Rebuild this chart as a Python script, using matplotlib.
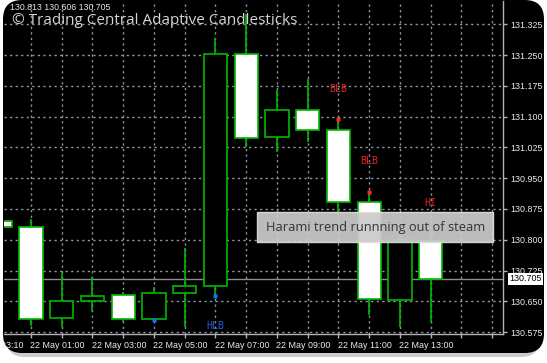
import matplotlib
matplotlib.use("Agg")
import matplotlib.pyplot as plt
from matplotlib.patches import FancyBboxPatch, Rectangle
from matplotlib.transforms import blended_transform_factory

# ---------------- data ----------------
hours = [0, 1, 2, 3, 4, 5, 6, 7, 8, 9, 10, 11, 12, 13, 14]
opens = [130.846, 130.831, 130.610, 130.650, 130.665, 130.607, 130.670, 130.6875,
         131.252, 131.050, 131.115, 131.067, 130.891, 130.653, 130.797]
highs = [130.846, 130.851, 130.718, 130.710, 130.674, 130.686, 130.780, 131.291,
         131.350, 131.165, 131.191, 131.093, 130.917, 130.809, 130.8165]
lows = [130.831, 130.590, 130.588, 130.627, 130.601, 130.605, 130.588, 130.662,
        131.025, 131.0145, 131.037, 130.863, 130.617, 130.588, 130.601]
closes = [130.831, 130.607, 130.652, 130.662, 130.607, 130.671, 130.6875, 131.252,
          131.0486, 131.115, 131.067, 130.891, 130.655, 130.7995, 130.705]

y_ticks = [130.575, 130.650, 130.725, 130.800, 130.875, 130.950, 131.025,
           131.100, 131.175, 131.250, 131.325]
x_label_hours = [-1, 1, 3, 5, 7, 9, 11, 13]
x_labels = ["21 May 23:10", "22 May 01:00", "22 May 03:00", "22 May 05:00",
            "22 May 07:00", "22 May 09:00", "22 May 11:00", "22 May 13:00"]

current_price = 130.705
header_values = "130.813 130.606 130.705"
title = "\u00a9 Trading Central Adaptive Candlesticks"
annotation = "Harami trend runnning out of steam"

sell_hours = [11, 12, 14]
sell_texts = ["BLB", "BLB", "HI"]
sell_text_prices = [131.167, 130.992, 130.890]
buy_hours = [5, 7]
buy_texts = ["", "HLB"]
buy_text_prices = [None, 130.590]

# ---------------- figure ----------------
W, H = 547, 363
fig = plt.figure(figsize=(W / 100, H / 100), dpi=100)
fig.patch.set_facecolor("white")


def fx(px):
    return px / W


def fy(py):
    return 1 - py / H


shadow = FancyBboxPatch((fx(6), fy(357)), fx(540) - fx(6), fy(4) - fy(357),
                        boxstyle="round,pad=0,rounding_size=0.035",
                        transform=fig.transFigure, facecolor="#9a9a9a",
                        edgecolor="none", alpha=0.5, zorder=-2,
                        mutation_aspect=W / H)
fig.add_artist(shadow)
frame = FancyBboxPatch((fx(3), fy(353)), fx(544) - fx(3), fy(0) - fy(353),
                       boxstyle="round,pad=0,rounding_size=0.035",
                       transform=fig.transFigure, facecolor="black",
                       edgecolor="none", zorder=-1, mutation_aspect=W / H)
fig.add_artist(frame)

ax = fig.add_axes([fx(4), fy(334), fx(503) - fx(4), fy(1) - fy(334)])
ax.set_zorder(1)
ax.patch.set_visible(False)
ax.set_xlim(0.122, 16.35)
ax.set_ylim(130.5706, 131.3815)

grid_color = "#8d97a1"
grid_ls = (0, (1.6, 2.4))
for h in range(0, 17):
    ax.axvline(h, color=grid_color, lw=1.0, ls=grid_ls, zorder=1)
for p in y_ticks:
    ax.axhline(p, color=grid_color, lw=1.0, ls=grid_ls, zorder=1)

# current price line
ax.axhline(current_price, color="#8c8c8c", lw=1.0, zorder=1.5)

green = "#00b800"
width = 0.75
for h, o, hi, lo, c in zip(hours, opens, highs, lows, closes):
    ax.vlines(h, lo, hi, color=green, lw=1.2, zorder=2)
    face = "black" if c > o else "white"
    ax.bar(h, abs(c - o), bottom=min(o, c), width=width, facecolor=face,
           edgecolor=green, linewidth=1.2, zorder=3)

# signals
for h, t, tp in zip(sell_hours, sell_texts, sell_text_prices):
    ax.plot(h, highs[hours.index(h)], marker="s", ms=2.4, color="#ff2a2a",
            mec="none", zorder=4)
    ax.text(h, tp, t, color="#e02424", fontsize=7.2, ha="center", va="center",
            family="DejaVu Sans Mono", zorder=4)
for h, t, tp in zip(buy_hours, buy_texts, buy_text_prices):
    ax.plot(h, lows[hours.index(h)], marker="s", ms=2.4, color="#1a6cff",
            mec="none", zorder=4)
    if t:
        ax.text(h, tp, t, color="#1a62d8", fontsize=7.2, ha="center",
                va="center", family="DejaVu Sans Mono", zorder=4)

# spines
for s in ["top", "left"]:
    ax.spines[s].set_visible(False)
for s in ["right", "bottom"]:
    ax.spines[s].set_color("#b4b4b4")
    ax.spines[s].set_linewidth(1.0)

# y axis on right
ax.yaxis.tick_right()
ax.set_yticks(y_ticks)
ax.set_yticklabels([f"{v:.3f}" for v in y_ticks])
ax.tick_params(axis="y", colors="#b4b4b4", labelcolor="#ececec", length=3,
               width=1, pad=2, labelsize=6.4)
for lab in ax.get_yticklabels():
    lab.set_family("Liberation Sans")

# x axis: ticks each hour, labels as left-aligned text
ax.set_xticks(list(range(1, 17)))
ax.set_xticklabels([])
ax.tick_params(axis="x", colors="#b4b4b4", length=3, width=1)
tr = blended_transform_factory(ax.transData, ax.transAxes)
for h, lab in zip(x_label_hours, x_labels):
    ax.text(h - 0.03, -0.02, lab, transform=tr, ha="left", va="top",
            color="#ececec", fontsize=6.4, family="Liberation Sans",
            clip_on=False)

# current price tag
ax.text(1.012, current_price, f"{current_price:.3f}",
        transform=blended_transform_factory(ax.transAxes, ax.transData),
        ha="left", va="center", fontsize=6.4, color="black",
        family="Liberation Sans",
        bbox=dict(boxstyle="square,pad=0.15", facecolor="white",
                  edgecolor="none"), clip_on=False, zorder=5)

# header texts
fig.text(fx(10), fy(7.5), header_values, ha="left", va="center",
         color="#e6e6e6", fontsize=6.3, family="Liberation Sans", zorder=6)
fig.text(fx(12), fy(21), title, ha="left", va="center", color="#d4d4d4",
         fontsize=11.0, family="Open Sans", zorder=6)

# annotation box
box = Rectangle((fx(257.3), fy(241.7)), fx(493.3) - fx(257.3),
                fy(212.3) - fy(241.7), transform=fig.transFigure,
                facecolor="#cbcbcb", edgecolor="#dedede", lw=1, alpha=0.93,
                zorder=7)
fig.add_artist(box)
fig.text(fx(266.5), fy(227.5), annotation, ha="left", va="center",
         color="#333333", fontsize=9.3, family="Open Sans", zorder=8)

fig.savefig("out.png", dpi=100, facecolor="white")
